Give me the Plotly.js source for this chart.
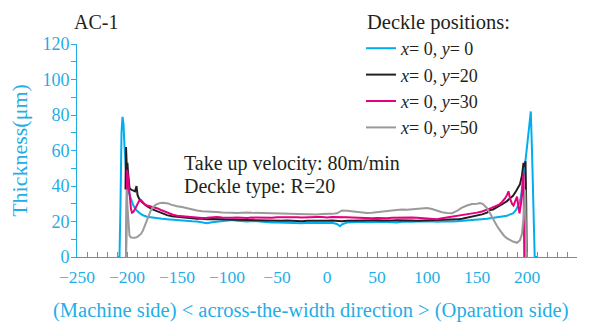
<!DOCTYPE html>
<html>
<head>
<meta charset="utf-8">
<script src="https://cdn.plot.ly/plotly-3.0.1.min.js"></script>
<style>html,body{margin:0;padding:0;background:#fff;}</style>
</head>
<body>
<div id="chart" style="width:589px;height:323px;"></div>
<script>
// ---- data ----
const seriesNames = ["<i>x</i>= 0, <i>y</i>= 0", "<i>x</i>= 0, <i>y</i>=20", "<i>x</i>= 0, <i>y</i>=30", "<i>x</i>= 0, <i>y</i>=50"];

const xBlue = [-210,-207.5,-206.5,-205.5,-204.5,-203.5,-202.5,-201.5,-200,-198,-196,-194,-192,-190,-187,-184,-180,-175,-170,-165,-160,-155,-150,
  -145,-140,-135,-130,-125,-120,-115,-110,-105,-100,-95,-90,-85,-80,-75,-70,-65,-60,-55,-50,-45,-40,-35,-30,-25,-20,-15,-10,-5,0,5,10,13,15,20,25,30,35,40,45,50,55,60,65,70,75,80,85,90,95,100,105,110,115,120,125,130,135,140,145,
  150,155,160,165,170,175,180,183,186,189,192,194,196,198,200,202,203.8,205,206,207,207.7,210];
const yBlue = [0,0,30,70,79,75,62,50,41,36,32,29.5,27.5,26,24.6,23.5,22.7,22.2,21.8,21.5,21.3,21,20.9,
  20.8,20.4,20.1,20,19.6,19,19.6,20,20.3,20.6,20.8,20.4,20.2,20,20.3,20,19.8,19.6,19.5,19.4,19.3,19.4,19.1,19.2,19,19.3,19.2,19.1,19,19.2,19.3,18.6,17.3,18.4,19.4,19.6,19.8,19.9,19.6,19.5,19.7,19.9,19.7,19.8,19.5,19.8,19.7,19.9,20,19.8,20,20.1,19.8,20,20.2,20,20.1,20.3,20.4,20.6,
  20.8,21.2,21.6,22,22.3,22.6,23.2,24,24.6,26.5,30,34,42,52,62,73,82,60,32,8,0,0];

const xBlack = [-201.5,-201,-200.3,-199.6,-199,-198.3,-197.5,-196,-194,-192,-190.5,-189.5,-188,-186,-183,-180,-175,-170,-165,-160,-155,-150,
  -145,-140,-135,-130,-125,-120,-115,-110,-105,-100,-95,-90,-85,-80,-75,-70,-65,-60,-55,-50,-45,-40,-35,-30,-25,-20,-15,-10,-5,0,5,10,15,20,25,30,35,40,45,50,55,60,65,70,75,80,85,90,95,100,105,110,115,120,125,130,135,140,145,
  150,155,160,163,166,170,173,176,180,183,186,189,191,193,195,196.5,197.5,198.5,199.2,199.7];
const yBlack = [38,62,52,53,48,42,39,38,37.5,37,40,35,33,31.5,30,28.6,27,25.8,24.5,23.6,23,22.7,
  22.3,22,21.8,21.5,21.6,21.2,21.4,21.5,21.2,21.1,21,20.9,21,20.8,20.9,20.7,20.6,20.5,20.6,20.5,20.4,20.5,20.3,20.4,20.2,20.4,20.3,20.2,20.3,20.4,20.5,20.3,20.2,20.4,20.5,20.6,20.4,20.5,20.6,20.7,20.5,20.4,20.6,20.7,20.5,20.6,20.5,20.4,20.5,20.6,20.7,20.6,20.5,20.7,20.9,21.2,21.6,22.2,22.6,
  23.2,24,25,26.5,26.8,28,29,30,31.5,33,34.5,37,39,41,46,53,51,54,30,0];

const xPink = [-201,-200.5,-199.8,-199,-198,-197,-196,-195,-193.5,-192,-190,-188,-186,-184,-182,-180,-177,-174,-170,-166,-162,-158,-154,-150,
  -145,-140,-135,-130,-125,-120,-115,-110,-105,-100,-95,-90,-85,-80,-75,-70,-65,-60,-55,-50,-45,-40,-35,-30,-25,-20,-15,-10,-5,0,5,10,15,20,25,30,35,40,45,50,55,60,65,70,75,80,85,90,95,100,105,110,115,120,125,130,135,140,145,
  150,155,160,164,168,172,175,178,180,181.5,183,185,186.5,188,190,191.5,192.5,194,195.5,196.5,197.3];
const yPink = [0,30,49,45,38,31,27,25,25.5,27,29.5,31.5,32,30.5,29.5,29,28.6,28.4,27.5,26.5,25.5,24.6,23.8,23.2,
  22.9,22.6,22.4,22.2,22,22.1,22.3,22.5,22.2,22,22.1,22.3,22.1,22,22.2,22.1,22,22.2,22.1,22.4,22.5,22.3,22.6,22.4,22.3,22.5,22.4,22.6,22.5,22.3,22.6,22.4,22.2,22.4,22.3,22.1,22.2,22,21.9,22,21.8,21.9,22.1,22.2,22,22.1,22.3,22.1,22,21.9,21.6,21.3,21.8,22.2,22.8,23.4,23.8,24.2,24.6,
  25,25.6,26.5,27.5,28.5,29.5,31,33,35,37,33,30,29,31,34,28,24.6,30,40,47,0];

const xGray = [-201,-200.3,-199.5,-198.5,-197.5,-196,-194,-192,-190,-188,-186,-184,-182,-180,-178,-176,-174,-171,-168,-165,-162,-159,-156,-153,-150,
  -145,-140,-135,-130,-125,-120,-115,-110,-105,-100,-95,-90,-85,-80,-75,-70,-65,-60,-55,-50,-45,-40,-35,-30,-25,-20,-15,-10,-5,0,5,10,15,20,25,30,35,40,45,50,55,60,65,70,75,80,85,90,95,100,105,110,115,120,125,130,135,140,145,
  150,153,156,160,163,166,170,173,177,180,183,186,190,193,195,196.5,197.5,198.2,198.8,199.2];
const yGray = [0,38,28,17,12,11,10.7,10.8,11.2,12,13,15,18,21,24,26.5,28,29.5,30.2,30.6,30.4,30.2,29.5,29,28.6,
  28.2,27.4,26.8,26.2,25.8,25.5,25.6,25.3,25.1,25.2,25,24.8,25,25.1,24.9,24.8,24.9,24.7,24.6,24.4,24.3,24.4,24.2,24.3,24,24.2,24.1,24,24.2,24.1,24.3,24.6,26.2,26,25.6,25.3,25,24.8,25,25.4,25.8,26,26.2,26.5,26.8,26.6,26.9,27.3,27.5,27.6,27,26,25.2,24.8,24.7,26,27.8,29,29.8,
  30,30.4,29.8,27.5,24.7,21.5,17.5,15,12,10.5,9.6,8.7,8,9.5,13,22,33,38,20,0];

const xTickVals = [-250,-200,-150,-100,-50,0,50,100,150,200,250];
const yTickVals = [0,20,40,60,80,100,120];

// ---- styles ----
const cyan = "#1FAEE6";
const colors = ["#00AEEF", "#231F20", "#E6007E", "#9A9A9A"];
const font = "Liberation Serif, Times New Roman, serif";
const ink = "#231F20";

const xs = [xBlue, xBlack, xPink, xGray];
const ys = [yBlue, yBlack, yPink, yGray];
const traces = xs.map((x, i) => ({
  x: x, y: ys[i], type: "scatter", mode: "lines", name: seriesNames[i],
  line: {color: colors[i], width: 2}
}));

// place text by pixel position, converted to paper fractions of the plot area
const L = 77, R = 577, T = 44, B = 257;
function pnote(text, px, py, size, color, anchor) {
  return {text: text, x: (px - L) / (R - L), y: (B - py) / (B - T), xref: "paper", yref: "paper",
          xanchor: anchor || "left", yanchor: "middle", align: "left", showarrow: false,
          font: {family: font, size: size, color: color || ink}};
}

const layout = {
  width: 589, height: 323,
  margin: {l: 77, r: 12, t: 44, b: 66},
  paper_bgcolor: "#fff", plot_bgcolor: "#fff",
  font: {family: font, color: ink},
  showlegend: true,
  title: {text: "AC-1", font: {family: font, size: 20, color: ink},
          x: 74/589, xanchor: "left", xref: "container", y: 1 - 22/323, yanchor: "middle", yref: "container"},
  legend: {x: (361 - 77) / 500, xanchor: "left", y: (257 - 30) / 213, yanchor: "top", bgcolor: "rgba(0,0,0,0)",
           font: {family: font, size: 18, color: ink}, tracegroupgap: 0},
  xaxis: {range: [-250, 250], tickvals: xTickVals, ticks: "inside", ticklen: 5, tickwidth: 1, tickcolor: cyan,
          showline: true, linecolor: cyan, linewidth: 1, showgrid: false, zeroline: false,
          tickfont: {family: font, size: 17.5, color: cyan}, ticklabelstandoff: 4,
          minor: {dtick: 10, tick0: 0, ticks: "inside", ticklen: 5, tickcolor: cyan, showgrid: false}},
  yaxis: {range: [0, 120], tickvals: yTickVals, ticks: "outside", ticklen: 5, tickwidth: 1, tickcolor: cyan,
          showline: true, linecolor: cyan, linewidth: 1, showgrid: false, zeroline: false,
          tickfont: {family: font, size: 18, color: cyan}, ticklabelstandoff: -2,
          minor: {dtick: 10, tick0: 0, ticks: "outside", ticklen: 5, tickcolor: cyan, showgrid: false},
          title: {text: "Thickness(μm)", font: {family: font, size: 22, color: cyan}, standoff: 8}},
  annotations: [
    pnote("Deckle positions:", 365, 22, 20.5),
    pnote("Take up velocity: 80m/min", 182, 163, 20),
    pnote("Deckle type: R=20", 182, 186, 20),
    pnote("(Machine side) < across-the-width direction > (Oparation side)", 311, 310, 20.5, cyan, "center")
  ]
};

Plotly.newPlot("chart", traces, layout, {displayModeBar: false, staticPlot: true});
</script>
</body>
</html>
